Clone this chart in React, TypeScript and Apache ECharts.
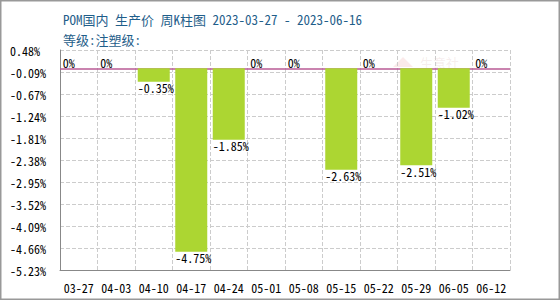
import React, { useEffect, useRef } from 'react';
import * as echarts from 'echarts';

const categories = ['03-27', '04-03', '04-10', '04-17', '04-24', '05-01', '05-08', '05-15', '05-22', '05-29', '06-05', '06-12'];
const changes = [0, 0, -0.35, -4.75, -1.85, 0, 0, -2.63, 0, -2.51, -1.02, 0];
const yTickLabels = ['-5.23%', '-4.66%', '-4.09%', '-3.52%', '-2.95%', '-2.38%', '-1.81%', '-1.24%', '-0.67%', '-0.09%', '0.48%'];
const yMin = -5.225;
const yMax = 0.475;
const yStep = 0.57;
const titleText = 'POM国内 生产价 周K柱图 2023-03-27 - 2023-06-16';
const subText = '等级:注塑级:';

const FONT = "'Noto Sans Mono CJK SC', 'Noto Sans CJK SC', 'DejaVu Sans Mono', monospace";

export default function App() {
  const ref = useRef<HTMLDivElement>(null);
  useEffect(() => {
    document.body.style.margin = '0';
    const chart = echarts.init(ref.current!, null, { renderer: 'svg' });
    chart.setOption({
      animation: false,
      backgroundColor: '#ffffff',
      textStyle: { fontFamily: FONT },
      title: {
        text: titleText,
        subtext: subText,
        left: 58,
        top: 8,
        itemGap: 7,
        textStyle: { fontFamily: FONT, fontSize: 13, fontWeight: 'normal', color: '#1f5e8a' },
        subtextStyle: { fontFamily: FONT, fontSize: 13, color: '#1f5e8a' },
      },
      graphic: [
        {
          type: 'rect',
          z: 100,
          shape: { x: 0.75, y: 0.75, width: 558.5, height: 298.5 },
          style: { fill: 'none', stroke: '#999999', lineWidth: 1.5 },
          silent: true,
        },
        {
          type: 'polygon',
          z: -1,
          shape: { points: [[393, 67], [403, 57], [413, 67]] },
          style: { fill: 'rgba(220,80,80,0.12)' },
          silent: true,
        },
        {
          type: 'text',
          z: -1,
          x: 420,
          y: 56,
          style: { text: '生意社', fontSize: 13, fontFamily: FONT, fill: 'rgba(200,150,150,0.18)' },
          silent: true,
        },
      ],
      grid: { left: 60, right: 50, top: 50, bottom: 30, containLabel: false },
      xAxis: {
        type: 'category',
        data: categories,
        boundaryGap: true,
        axisLine: { onZero: false, lineStyle: { color: '#888888', width: 1 } },
        axisTick: { show: false },
        axisLabel: { color: '#000000', fontSize: 12, fontFamily: FONT, margin: 11, interval: 0 },
        splitLine: { show: true, interval: 0, lineStyle: { color: '#cccccc', type: 'dashed' } },
      },
      yAxis: {
        type: 'value',
        min: yMin,
        max: yMax,
        interval: yStep,
        axisLine: { show: true, lineStyle: { color: '#888888', width: 1 } },
        axisTick: { show: false },
        axisLabel: {
          color: '#000000',
          fontSize: 12,
          fontFamily: FONT,
          align: 'left',
          margin: 50,
          formatter: (v: number) => {
            const i = Math.round((v - yMin) / yStep);
            return yTickLabels[i] ?? '';
          },
        },
        splitLine: { show: true, lineStyle: { color: '#cccccc', type: 'dashed' } },
      },
      series: [
        {
          type: 'bar',
          barWidth: 32,
          itemStyle: { color: '#acd632' },
          data: changes.map((v) => ({
            value: v,
            label:
              v < 0
                ? { position: ['0%', '100%'], align: 'left', verticalAlign: 'top' }
                : { position: ['0%', '0%'], align: 'left', verticalAlign: 'bottom' },
          })),
          label: {
            show: true,
            color: '#000000',
            fontSize: 12,
            fontFamily: FONT,
            formatter: (p: any) => (p.value === 0 ? '0%' : p.value + '%'),
          },
          markLine: {
            z: 1,
            silent: true,
            symbol: 'none',
            label: { show: false },
            lineStyle: { color: '#b85a94', width: 1.5, type: 'solid' },
            data: [{ yAxis: 0 }],
          },
        },
      ],
    });
    return () => chart.dispose();
  }, []);
  return <div ref={ref} style={{ width: 560, height: 300 }} />;
}
